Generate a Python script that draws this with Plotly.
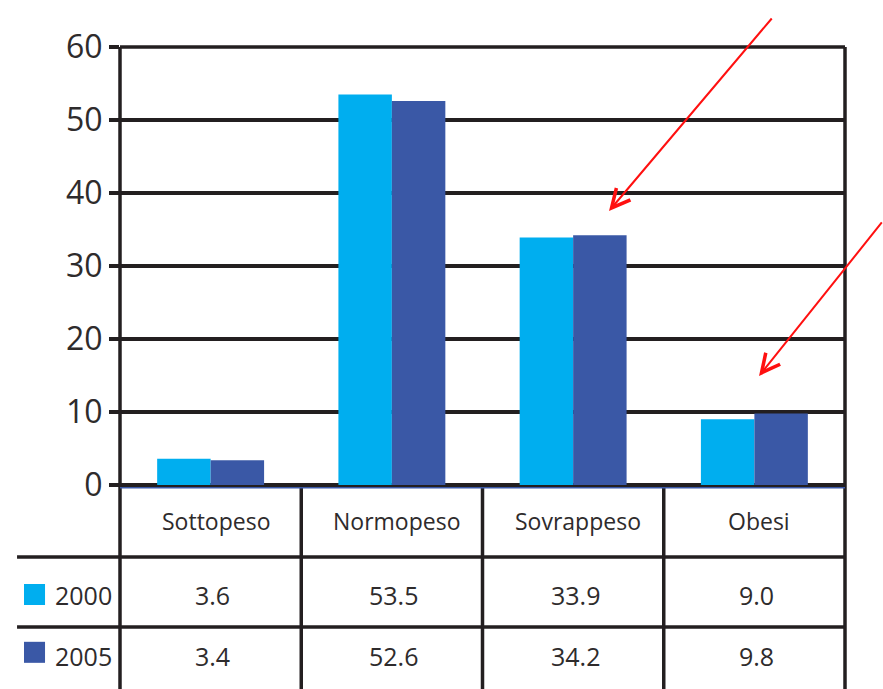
import plotly.graph_objects as go

# Body-weight classes and the share of people (%) in each, by survey year
categories = ["Sottopeso", "Normopeso", "Sovrappeso", "Obesi"]
years = ["2000", "2005"]
values_2000 = [3.6, 53.5, 33.9, 9.0]
values_2005 = [3.4, 52.6, 34.2, 9.8]
series = [values_2000, values_2005]
colors = ["#00AEEF", "#3A58A6"]
y_ticks = [0, 10, 20, 30, 40, 50, 60]

INK = "#231F20"
TEXT = "#2E2B2C"
FONT = "Open Sans"
RULE = 3.5

fig = go.Figure()
for year, vals, col in zip(years, series, colors):
    fig.add_trace(go.Bar(
        x=categories, y=vals, name=year,
        marker=dict(color=col, line=dict(width=0)),
        showlegend=False,
    ))

# Table geometry (paper units below the plotting area)
row_header_bottom = -0.1644
row_2000_bottom = -0.3242
table_bottom = -0.50
header_text_y = -0.082
row_text_y = [-0.251, -0.390]
table_left = -0.142

shapes = []
# top rule of the frame
shapes.append(dict(type="line", xref="paper", yref="paper",
                   x0=0, x1=1, y0=1, y1=1,
                   line=dict(color=INK, width=RULE)))
# full-height left and right frame lines
for xp in (0, 1):
    shapes.append(dict(type="line", xref="paper", yref="paper",
                       x0=xp, x1=xp, y0=table_bottom, y1=1,
                       line=dict(color=INK, width=RULE)))
# column separators between categories
for i in range(1, len(categories)):
    shapes.append(dict(type="line", xref="x", yref="paper",
                       x0=i - 0.5, x1=i - 0.5, y0=table_bottom, y1=0,
                       line=dict(color=INK, width=RULE)))
# row separators
for yp in (row_header_bottom, row_2000_bottom):
    shapes.append(dict(type="line", xref="paper", yref="paper",
                       x0=table_left, x1=1, y0=yp, y1=yp,
                       line=dict(color=INK, width=RULE)))
# thin blue rule just under the baseline
shapes.append(dict(type="line", xref="paper", yref="paper",
                   x0=0, x1=1, y0=-0.006, y1=-0.006,
                   line=dict(color="#3A58A6", width=1.5)))
# legend swatches in the row headers
for (y0, y1), col in zip([(-0.274, -0.226), (-0.406, -0.358)], colors):
    shapes.append(dict(type="rect", xref="paper", yref="paper",
                       x0=-0.1324, x1=-0.1034, y0=y0, y1=y1,
                       fillcolor=col, line=dict(width=0)))

annotations = []
for cat in categories:
    annotations.append(dict(x=cat, y=header_text_y, xref="x", yref="paper",
                            text=cat, showarrow=False, yanchor="middle",
                            xshift=5,
                            font=dict(family=FONT, size=23, color=TEXT)))
for year, vals, ty in zip(years, series, row_text_y):
    annotations.append(dict(x=-0.093, y=ty, xref="paper", yref="paper",
                            text=year, showarrow=False,
                            xanchor="left", yanchor="middle",
                            font=dict(family=FONT, size=25, color=TEXT)))
    for cat, v in zip(categories, vals):
        annotations.append(dict(x=cat, y=ty, xref="x", yref="paper",
                                text=f"{v:.1f}", showarrow=False,
                                yanchor="middle", xshift=2,
                                font=dict(family=FONT, size=25, color=TEXT)))

# red pointer arrows
for tip_x, tip_y, ax, ay in [(0.6745, 0.6256, 164, -194),
                             (0.8814, 0.2489, 126, -155)]:
    annotations.append(dict(x=tip_x, y=tip_y, xref="paper", yref="paper",
                            ax=ax, ay=ay, text="", showarrow=True,
                            arrowhead=5, arrowsize=1.8, arrowwidth=2,
                            arrowcolor="#FF1010", standoff=0))

fig.update_layout(
    width=883, height=689,
    margin=dict(l=120, r=38, t=47, b=204),
    paper_bgcolor="white", plot_bgcolor="white",
    barmode="group", bargap=0.41, bargroupgap=0,
    font=dict(family=FONT, color=TEXT),
    xaxis=dict(showticklabels=False, ticks="", showgrid=False,
               showline=False, zeroline=False, fixedrange=True),
    yaxis=dict(range=[0, 60], tickvals=y_ticks,
               ticks="outside", ticklen=10, tickwidth=RULE, tickcolor=INK,
               tickfont=dict(family=FONT, size=32, color=TEXT),
               showgrid=True, gridcolor=INK, gridwidth=RULE,
               zeroline=True, zerolinecolor=INK, zerolinewidth=RULE,
               showline=False),
    shapes=shapes,
    annotations=annotations,
)

fig.write_html("out.html")
